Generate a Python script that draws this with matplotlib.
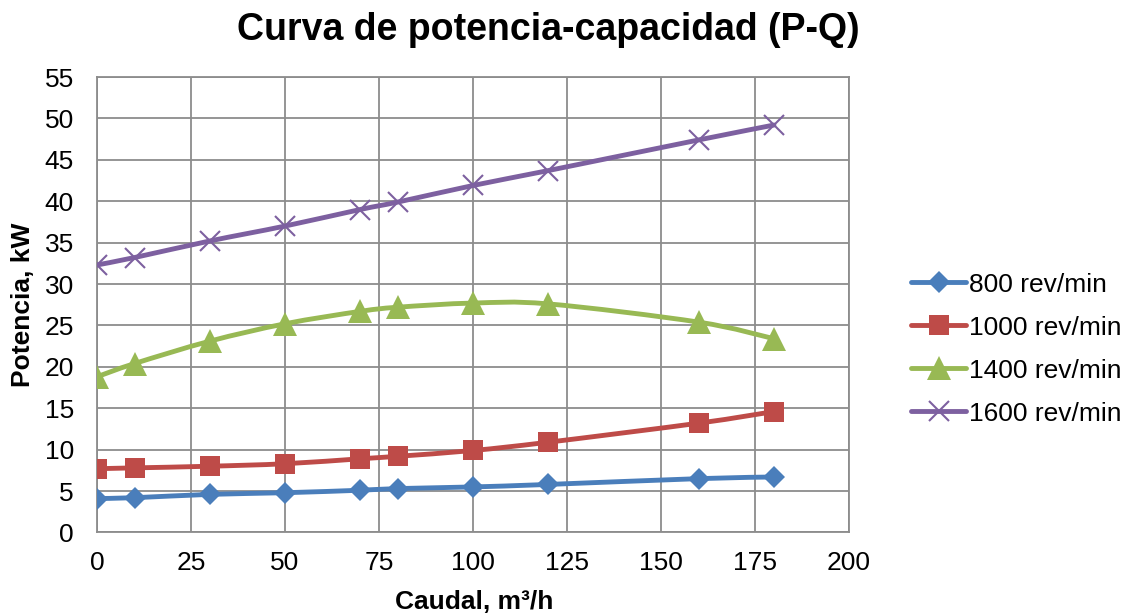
import matplotlib
matplotlib.use("Agg")
import matplotlib.pyplot as plt
import numpy as np
from matplotlib.path import Path
from matplotlib.patches import PathPatch
from matplotlib.lines import Line2D

plt.rcParams['font.family'] = ['Liberation Sans', 'DejaVu Sans']

# caudal (m3/h) and potencia (kW)
caudal = [0, 10, 30, 50, 70, 80, 100, 120, 160, 180]
p_800 = [4.1, 4.2, 4.6, 4.8, 5.1, 5.3, 5.5, 5.8, 6.5, 6.7]
p_1000 = [7.7, 7.8, 8.0, 8.3, 8.9, 9.2, 9.9, 10.9, 13.2, 14.6]
p_1400 = [18.8, 20.4, 23.1, 25.2, 26.7, 27.2, 27.7, 27.6, 25.4, 23.4]
p_1600 = [32.3, 33.2, 35.2, 37.0, 39.0, 39.9, 41.9, 43.7, 47.4, 49.2]
labels = ["800 rev/min", "1000 rev/min", "1400 rev/min", "1600 rev/min"]
x_ticks = [0, 25, 50, 75, 100, 125, 150, 175, 200]
y_ticks = [0, 5, 10, 15, 20, 25, 30, 35, 40, 45, 50, 55]

series = [p_800, p_1000, p_1400, p_1600]
colors = ["#4A7EBB", "#BE4B48", "#98B954", "#7D60A0"]
markers = ["D", "s", "^", "x"]
msizes = [11.5, 14, 17, 14]


def smooth_path(x, y):
    """Bezier path through the points, like the smoothed lines in a spreadsheet chart."""
    pts = np.column_stack([x, y]).astype(float)
    n = len(pts)
    verts = [pts[0]]
    codes = [Path.MOVETO]
    for i in range(n - 1):
        p0 = pts[max(i - 1, 0)]
        p1 = pts[i]
        p2 = pts[i + 1]
        p3 = pts[min(i + 2, n - 1)]
        c1 = p1 + (p2 - p0) / 6.0
        c2 = p2 - (p3 - p1) / 6.0
        verts += [c1, c2, p2]
        codes += [Path.CURVE4] * 3
    return Path(verts, codes)


fig = plt.figure(figsize=(11.26, 6.16), dpi=100)
ax = fig.add_axes([0.0861, 0.1356, 0.668, 0.7394])

handles = []
for vals, col, mk, ms in zip(series, colors, markers, msizes):
    patch = PathPatch(smooth_path(caudal, vals), facecolor="none", edgecolor=col,
                      lw=3.5, capstyle="round", joinstyle="round", zorder=3)
    ax.add_patch(patch)
    mew = 1.5 if mk == "x" else 0
    ax.plot(caudal, vals, ls="none", marker=mk, ms=ms, color=col, mec=col, mew=mew, zorder=4)
    handles.append(Line2D([], [], color=col, lw=3.5, marker=mk, ms=ms, mec=col, mew=mew,
                          solid_capstyle="round"))

ax.set_xlim(0, 200)
ax.set_ylim(0, 55)
ax.set_xticks(x_ticks)
ax.set_yticks(y_ticks)
ax.grid(True, color="#8C8C8C", lw=1.3)
ax.set_axisbelow(True)
for s in ax.spines.values():
    s.set_color("#8C8C8C")
    s.set_linewidth(1.3)
ax.tick_params(axis="x", length=0, pad=13, labelsize=19)
ax.tick_params(axis="y", length=0, pad=16.5, labelsize=19)

fig.text(0.421, 0.023, "Caudal, m³/h", fontsize=19, fontweight="bold",
         ha="center", va="center")
fig.text(0.020, 0.505, "Potencia, kW", fontsize=19, fontweight="bold",
         ha="center", va="center", rotation=90)

fig.text(0.487, 0.951, "Curva de potencia-capacidad (P-Q)", fontsize=27,
         fontweight="bold", ha="center", va="center")

fig.legend(handles=handles, labels=labels, loc="center left",
           bbox_to_anchor=(0.809, 0.4334), frameon=False, fontsize=19,
           handlelength=2.1, handletextpad=0.1, labelspacing=0.72,
           borderpad=0, borderaxespad=0)

fig.savefig("out.png", dpi=100)
